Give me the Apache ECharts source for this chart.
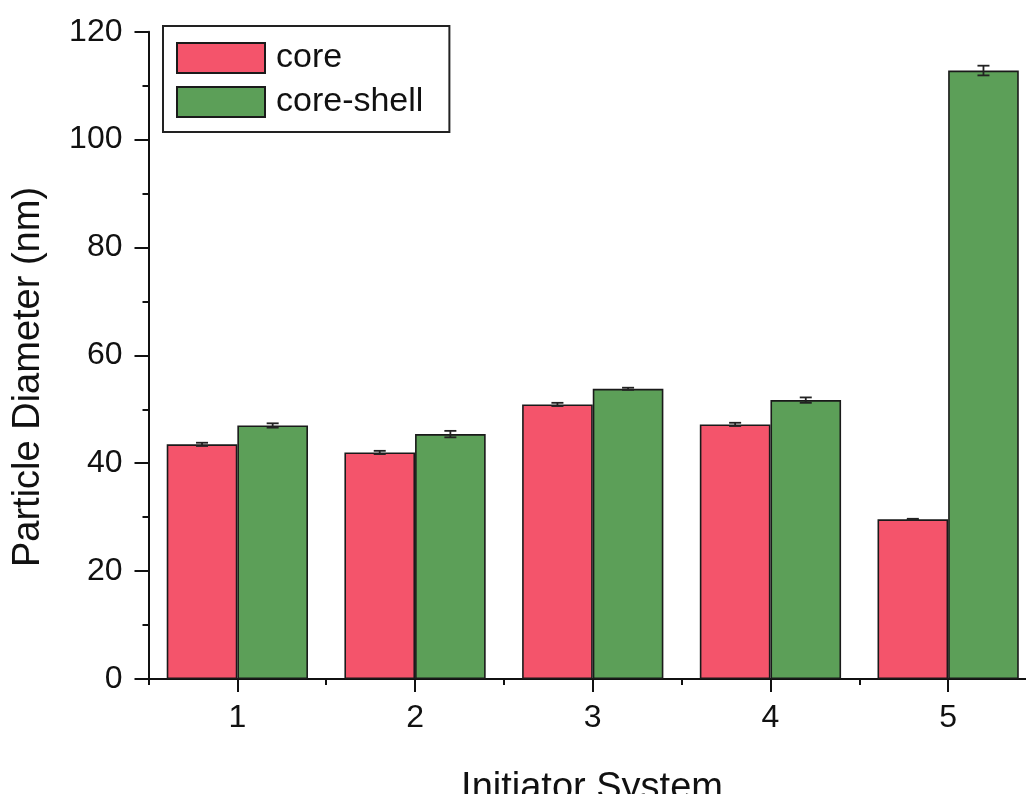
<!DOCTYPE html>
<html>
<head>
<meta charset="utf-8">
<title>Particle Diameter by Initiator System</title>
<script src="https://cdn.jsdelivr.net/npm/echarts@6/dist/echarts.min.js"></script>
<style>
  html, body { margin: 0; padding: 0; background: #fff; overflow: hidden; }
  #chart { width: 1040px; height: 794px; }
</style>
</head>
<body>
<div id="chart"></div>
<script>
// Initiator systems on the x axis
const categories = ['1', '2', '3', '4', '5'];
// Mean particle diameters (nm)
const coreValues = [43.5, 42.0, 50.9, 47.2, 29.6];
const coreShellValues = [47.0, 45.4, 53.8, 51.7, 112.8];
// Standard deviations (nm)
const coreErrors = [0.3, 0.3, 0.3, 0.3, 0.1];
const coreShellErrors = [0.4, 0.6, 0.2, 0.5, 0.9];
// Y axis range
const yMin = 0, yMax = 120, yStep = 20;

const FONT = 'Liberation Sans, Arial, sans-serif';
const INK = '#111';
const CORE_COLOR = '#f4546b';
const SHELL_COLOR = '#5c9f58';
const CATEGORY_GAP = 0.205; // fraction of the band left empty

const chart = echarts.init(document.getElementById('chart'), null, { renderer: 'canvas' });

// error bar drawing: side = -1 for left bar (core), +1 for right bar (core-shell)
function errorBarRenderer(side) {
  return function (params, api) {
    const idx = api.value(0);
    const val = api.value(1);
    const err = api.value(2);
    const band = api.size([1, 0])[0];
    const barW = band * (1 - CATEGORY_GAP) / 2;
    const center = api.coord([idx, val]);
    const x = center[0] + side * barW / 2;
    const top = api.coord([idx, val + err])[1];
    const bot = api.coord([idx, val - err])[1];
    const half = 6;
    const style = { stroke: '#222', lineWidth: 1.8, fill: null };
    return {
      type: 'group',
      children: [
        { type: 'line', shape: { x1: x, y1: top, x2: x, y2: bot }, style: style },
        { type: 'line', shape: { x1: x - half, y1: top, x2: x + half, y2: top }, style: style },
        { type: 'line', shape: { x1: x - half, y1: bot, x2: x + half, y2: bot }, style: style }
      ]
    };
  };
}

const option = {
  backgroundColor: '#fff',
  animation: false,
  grid: { left: 148.5, right: 3, top: 31.7, bottom: 115, containLabel: false },
  legend: {
    orient: 'vertical',
    left: 163,
    top: 26,
    padding: [15, 26, 13, 13],
    itemGap: 10,
    itemWidth: 88,
    itemHeight: 30,
    icon: 'rect',
    borderColor: '#222',
    borderWidth: 2,
    textStyle: { fontFamily: FONT, fontSize: 34, color: INK, padding: [0, 0, 0, 6] },
    data: ['core', 'core-shell']
  },
  xAxis: [
    {
      type: 'category',
      data: categories,
      axisLine: { show: true, lineStyle: { color: INK, width: 2 } },
      axisTick: { show: true, alignWithLabel: true, length: 13, lineStyle: { color: INK, width: 2 } },
      axisLabel: { fontFamily: FONT, fontSize: 32, color: INK, margin: 23 },
      splitLine: { show: false }
    },
    {
      // short ticks on the category boundaries
      type: 'category',
      data: categories,
      position: 'bottom',
      axisLine: { show: false },
      axisTick: { show: true, alignWithLabel: false, length: 6, lineStyle: { color: INK, width: 2 } },
      axisLabel: { show: false },
      splitLine: { show: false }
    }
  ],
  yAxis: {
    type: 'value',
    min: yMin,
    max: yMax,
    interval: yStep,
    axisLine: { show: true, lineStyle: { color: INK, width: 2 } },
    axisTick: { show: true, length: 14, lineStyle: { color: INK, width: 2 } },
    minorTick: { show: true, splitNumber: 2, length: 6, lineStyle: { color: INK, width: 2 } },
    axisLabel: { fontFamily: FONT, fontSize: 32, color: INK, margin: 26 },
    splitLine: { show: false }
  },
  graphic: [
    {
      type: 'text',
      x: 29, y: 377,
      rotation: Math.PI / 2,
      style: {
        text: 'Particle Diameter (nm)',
        fontFamily: FONT, fontSize: 38, fill: INK,
        align: 'center', verticalAlign: 'middle'
      }
    },
    {
      type: 'text',
      x: 592, y: 789,
      style: {
        text: 'Initiator System',
        fontFamily: FONT, fontSize: 38, fill: INK,
        align: 'center', verticalAlign: 'middle'
      }
    }
  ],
  series: [
    {
      name: 'core',
      type: 'bar',
      data: coreValues,
      barGap: '0%',
      barCategoryGap: (CATEGORY_GAP * 100) + '%',
      itemStyle: { color: CORE_COLOR, borderColor: '#1a1a1a', borderWidth: 1.6 }
    },
    {
      name: 'core-shell',
      type: 'bar',
      data: coreShellValues,
      barGap: '0%',
      barCategoryGap: (CATEGORY_GAP * 100) + '%',
      itemStyle: { color: SHELL_COLOR, borderColor: '#1a1a1a', borderWidth: 1.6 }
    },
    {
      type: 'custom',
      renderItem: errorBarRenderer(-1),
      encode: { x: 0, y: 1 },
      data: coreValues.map((v, i) => [i, v, coreErrors[i]]),
      z: 10,
      silent: true
    },
    {
      type: 'custom',
      renderItem: errorBarRenderer(1),
      encode: { x: 0, y: 1 },
      data: coreShellValues.map((v, i) => [i, v, coreShellErrors[i]]),
      z: 10,
      silent: true
    }
  ]
};

chart.setOption(option);
</script>
</body>
</html>
